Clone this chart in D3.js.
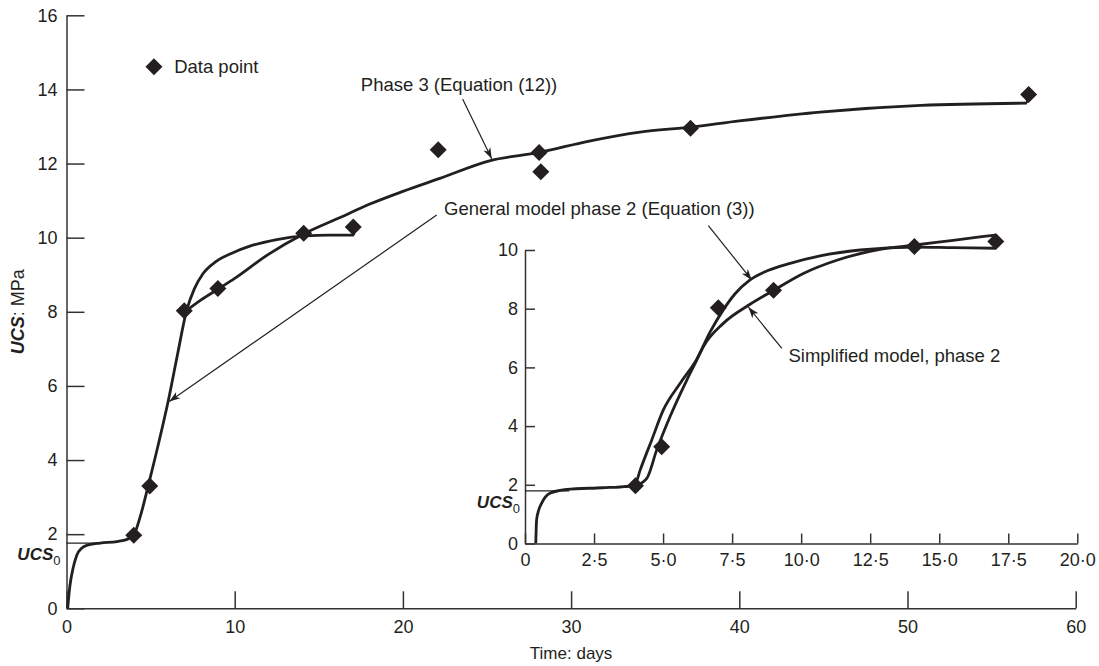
<!DOCTYPE html>
<html>
<head>
<meta charset="utf-8">
<script src="https://cdn.jsdelivr.net/npm/d3@7"></script>
<style>
  body { margin: 0; background: #fff; }
  text { font-family: "Liberation Sans", Arial, sans-serif; fill: #231f20; }
</style>
</head>
<body>
<div id="chart-area"></div>
<script>
// measured points, phase 2 (shared by main plot and inset)
const p2Days = [4.0, 4.95, 7.0, 9.0, 14.1, 17.05]
const p2Ucs = [1.97, 3.3, 8.03, 8.63, 10.12, 10.29]
// measured points, phase 3 only shown on main plot
const p3Days = [22.1, 28.1, 28.2, 37.1, 57.2]
const p3Ucs = [12.37, 12.3, 11.78, 12.95, 13.86]

// main plot curves
const genDays = [0.07, 0.2, 0.4, 0.6, 0.9, 1.3, 2.0, 3.0, 3.6, 4.0, 4.4, 4.87, 5.5, 6.06, 6.6, 7.15, 7.6, 8.1, 8.9, 9.93, 10.9, 12.5, 14.2, 15.6, 17.1]
const genUcs = [0, 0.6, 1.1, 1.42, 1.62, 1.71, 1.76, 1.8, 1.86, 1.98, 2.5, 3.33, 4.5, 5.62, 6.85, 8.05, 8.62, 9.02, 9.36, 9.6, 9.77, 9.95, 10.05, 10.07, 10.07]
const ph3Days = [7.1, 8, 9.0, 10, 12, 14.1, 16.3, 18, 20, 22.2, 25.2, 28.1, 31, 34.1, 37.05, 40, 44.8, 50.8, 57.1]
const ph3Ucs = [8.02, 8.32, 8.61, 8.9, 9.55, 10.1, 10.55, 10.9, 11.25, 11.6, 12.08, 12.3, 12.6, 12.85, 12.98, 13.15, 13.39, 13.57, 13.63]

// inset curves
const inGenDays = [0.39, 0.42, 0.5, 0.6, 0.9, 1.5, 2.8, 3.7, 4.0, 4.17, 4.59, 5.01, 5.62, 6.22, 6.7, 7.18, 7.6, 8.15, 8.8, 9.5, 10.69, 12.14, 14.13, 15.5, 17.03]
const inGenUcs = [0, 0.8, 1.15, 1.37, 1.71, 1.84, 1.9, 1.95, 2.05, 2.5, 3.53, 4.55, 5.46, 6.28, 7.2, 7.96, 8.5, 8.98, 9.3, 9.52, 9.8, 10.0, 10.1, 10.08, 10.06]
const inSimDays = [3.6, 4.0, 4.41, 4.77, 5.25, 5.86, 6.22, 6.46, 7.18, 8.15, 8.96, 10.08, 11.29, 12.86, 14.13, 15.5, 17.03]
const inSimUcs = [1.94, 1.98, 2.22, 3.19, 4.32, 5.57, 6.25, 6.71, 7.5, 8.15, 8.6, 9.2, 9.65, 10.02, 10.17, 10.33, 10.51]

// short vertical closing strokes at the curve ends, [day, from, to]
const mainHooks = [[17.1, 10.07, 10.24], [57.1, 13.63, 13.86]]
const insetHooks = [[17.03, 10.06, 10.51]]

const ucs0Main = 1.76
const ucs0Inset = 1.79

const mainXTicks = [0, 10, 20, 30, 40, 50, 60]
const mainYTicks = [0, 2, 4, 6, 8, 10, 12, 14, 16]
const insetXTicks = [0, 2.5, 5, 7.5, 10, 12.5, 15, 17.5, 20]
const insetYTicks = [0, 2, 4, 6, 8, 10]

const W = 1099, H = 666
const INK = "#231f20"

const svg = d3.select("#chart-area").append("svg")
  .attr("width", W)
  .attr("height", H)

svg.append("rect").attr("width", W).attr("height", H).attr("fill", "#fff")

svg.append("defs").append("marker")
  .attr("id", "arrow")
  .attr("viewBox", "-12 -5 13 10")
  .attr("refX", 0).attr("refY", 0)
  .attr("markerWidth", 13).attr("markerHeight", 10)
  .attr("markerUnits", "userSpaceOnUse")
  .attr("orient", "auto")
  .append("path")
  .attr("d", "M0,0 L-11,-3.8 L-8,0 L-11,3.8 Z")
  .attr("fill", INK)

// scales
const x = d3.scaleLinear().domain([0, 60]).range([66.5, 1075.7])
const y = d3.scaleLinear().domain([0, 16]).range([608.3, 15.3])
const xi = d3.scaleLinear().domain([0, 20]).range([525, 1077.3])
const yi = d3.scaleLinear().domain([0, 10]).range([543.5, 250])

function styleAxis(g) {
  g.select(".domain").attr("stroke", "#333").attr("stroke-width", 1.5)
  g.selectAll(".tick line").attr("stroke", "#333").attr("stroke-width", 1.5)
  g.selectAll(".tick text").attr("font-size", "18px").attr("fill", INK)
    .attr("font-family", "'Liberation Sans', Arial, sans-serif")
}

// main axes
svg.append("g")
  .attr("transform", `translate(0, ${y(0)})`)
  .call(d3.axisBottom(x).tickValues(mainXTicks).tickSizeInner(-17).tickSizeOuter(0).tickPadding(12))
  .call(styleAxis)

svg.append("g")
  .attr("transform", `translate(${x(0)}, 0)`)
  .call(d3.axisLeft(y).tickValues(mainYTicks).tickSizeInner(-18).tickSizeOuter(0).tickPadding(9))
  .call(styleAxis)

// inset axes
const fmtInset = d => d === 0 ? "0" : d3.format(".1f")(d).replace(".", "\u00b7")
svg.append("g")
  .attr("transform", `translate(0, ${yi(0)})`)
  .call(d3.axisBottom(xi).tickValues(insetXTicks).tickFormat(fmtInset).tickSizeInner(-10).tickSizeOuter(0).tickPadding(10))
  .call(styleAxis)

svg.append("g")
  .attr("transform", `translate(${xi(0)}, 0)`)
  .call(d3.axisLeft(yi).tickValues(insetYTicks).tickSizeInner(-10).tickSizeOuter(0).tickPadding(7))
  .call(styleAxis)

// axis titles
svg.append("text")
  .attr("x", (x(0) + x(60)) / 2)
  .attr("y", 659)
  .attr("text-anchor", "middle")
  .attr("font-size", "17px")
  .text("Time: days")

const yt = svg.append("text")
  .attr("transform", `translate(24, ${(y(0) + y(16)) / 2}) rotate(-90)`)
  .attr("text-anchor", "middle")
  .attr("font-size", "18px")
yt.append("tspan").attr("font-weight", "bold").attr("font-style", "italic").text("UCS")
yt.append("tspan").text(": MPa")

// UCS0 reference lines and labels
svg.append("line")
  .attr("x1", x(0)).attr("x2", x(2))
  .attr("y1", y(ucs0Main)).attr("y2", y(ucs0Main))
  .attr("stroke", INK).attr("stroke-width", 1.2)
svg.append("line")
  .attr("x1", xi(0)).attr("x2", xi(1.6))
  .attr("y1", yi(ucs0Inset)).attr("y2", yi(ucs0Inset))
  .attr("stroke", INK).attr("stroke-width", 1.2)

function ucs0Label(px, py) {
  const t = svg.append("text").attr("x", px).attr("y", py).attr("text-anchor", "end").attr("font-size", "17px")
  t.append("tspan").attr("font-weight", "bold").attr("font-style", "italic").text("UCS")
  t.append("tspan").attr("font-size", "13px").attr("dy", 5).text("0")
}
ucs0Label(x(0) - 6, y(ucs0Main) + 17)
ucs0Label(xi(0) - 5, yi(ucs0Inset) + 17)

// curves
const lineMain = d3.line().x(d => x(d[0])).y(d => y(d[1])).curve(d3.curveMonotoneX)
const lineInset = d3.line().x(d => xi(d[0])).y(d => yi(d[1])).curve(d3.curveMonotoneX)
const zipPts = (a, b) => a.map((v, i) => [v, b[i]])

const curves = [
  { line: lineMain, pts: zipPts(genDays, genUcs) },
  { line: lineMain, pts: zipPts(ph3Days, ph3Ucs) },
  { line: lineInset, pts: zipPts(inGenDays, inGenUcs) },
  { line: lineInset, pts: zipPts(inSimDays, inSimUcs) }
]
svg.selectAll("path.curve")
  .data(curves)
  .enter().append("path")
  .attr("class", "curve")
  .attr("d", d => d.line(d.pts))
  .attr("fill", "none")
  .attr("stroke", INK)
  .attr("stroke-width", 2.8)
  .attr("stroke-linejoin", "round")

const hooks = mainHooks.map(h => ({ sx: x, sy: y, h }))
  .concat(insetHooks.map(h => ({ sx: xi, sy: yi, h })))
svg.selectAll("line.hook")
  .data(hooks)
  .enter().append("line")
  .attr("class", "hook")
  .attr("x1", d => d.sx(d.h[0])).attr("x2", d => d.sx(d.h[0]))
  .attr("y1", d => d.sy(d.h[1])).attr("y2", d => d.sy(d.h[2]))
  .attr("stroke", INK)
  .attr("stroke-width", 2)

// diamonds
const diamond = "M0,-8.5 L8.5,0 L0,8.5 L-8.5,0 Z"
const mainPts = zipPts(p2Days, p2Ucs).concat(zipPts(p3Days, p3Ucs))
svg.selectAll("path.pt-main")
  .data(mainPts)
  .enter().append("path")
  .attr("class", "pt-main")
  .attr("d", diamond)
  .attr("transform", d => `translate(${x(d[0])}, ${y(d[1])})`)
  .attr("fill", INK)

svg.selectAll("path.pt-inset")
  .data(zipPts(p2Days, p2Ucs))
  .enter().append("path")
  .attr("class", "pt-inset")
  .attr("d", diamond)
  .attr("transform", d => `translate(${xi(d[0])}, ${yi(d[1])})`)
  .attr("fill", INK)

// legend
svg.append("path")
  .attr("d", diamond)
  .attr("transform", `translate(${x(5.2)}, ${y(14.61)})`)
  .attr("fill", INK)
svg.append("text")
  .attr("x", x(6.4)).attr("y", y(14.45))
  .attr("font-size", "18.5px")
  .text("Data point")

// annotations: text in data units of the plot they belong to
const notes = [
  { sx: x, sy: y, tx: 17.5, ty: 13.96, text: "Phase 3 (Equation (12))" },
  { sx: x, sy: y, tx: 22.45, ty: 10.6, text: "General model phase 2 (Equation (3))" },
  { sx: xi, sy: yi, tx: 9.54, ty: 6.19, text: "Simplified model, phase 2" }
]
svg.selectAll("text.note")
  .data(notes)
  .enter().append("text")
  .attr("class", "note")
  .attr("x", d => d.sx(d.tx))
  .attr("y", d => d.sy(d.ty))
  .attr("font-size", "18.5px")
  .text(d => d.text)

const arrows = [
  { sx: x, sy: y, from: [23.55, 13.74], to: [25.28, 12.13] },
  { sx: x, sy: y, from: [22.01, 10.61], to: [6.11, 5.58] },
  { sx: xi, sy: yi, from: [6.64, 10.83], to: [8.21, 8.98] },
  { sx: xi, sy: yi, from: [9.3, 6.65], to: [8.09, 8.05] }
]
svg.selectAll("line.arrow")
  .data(arrows)
  .enter().append("line")
  .attr("class", "arrow")
  .attr("x1", d => d.sx(d.from[0])).attr("y1", d => d.sy(d.from[1]))
  .attr("x2", d => d.sx(d.to[0])).attr("y2", d => d.sy(d.to[1]))
  .attr("stroke", INK)
  .attr("stroke-width", 1.2)
  .attr("marker-end", "url(#arrow)")
</script>
</body>
</html>
